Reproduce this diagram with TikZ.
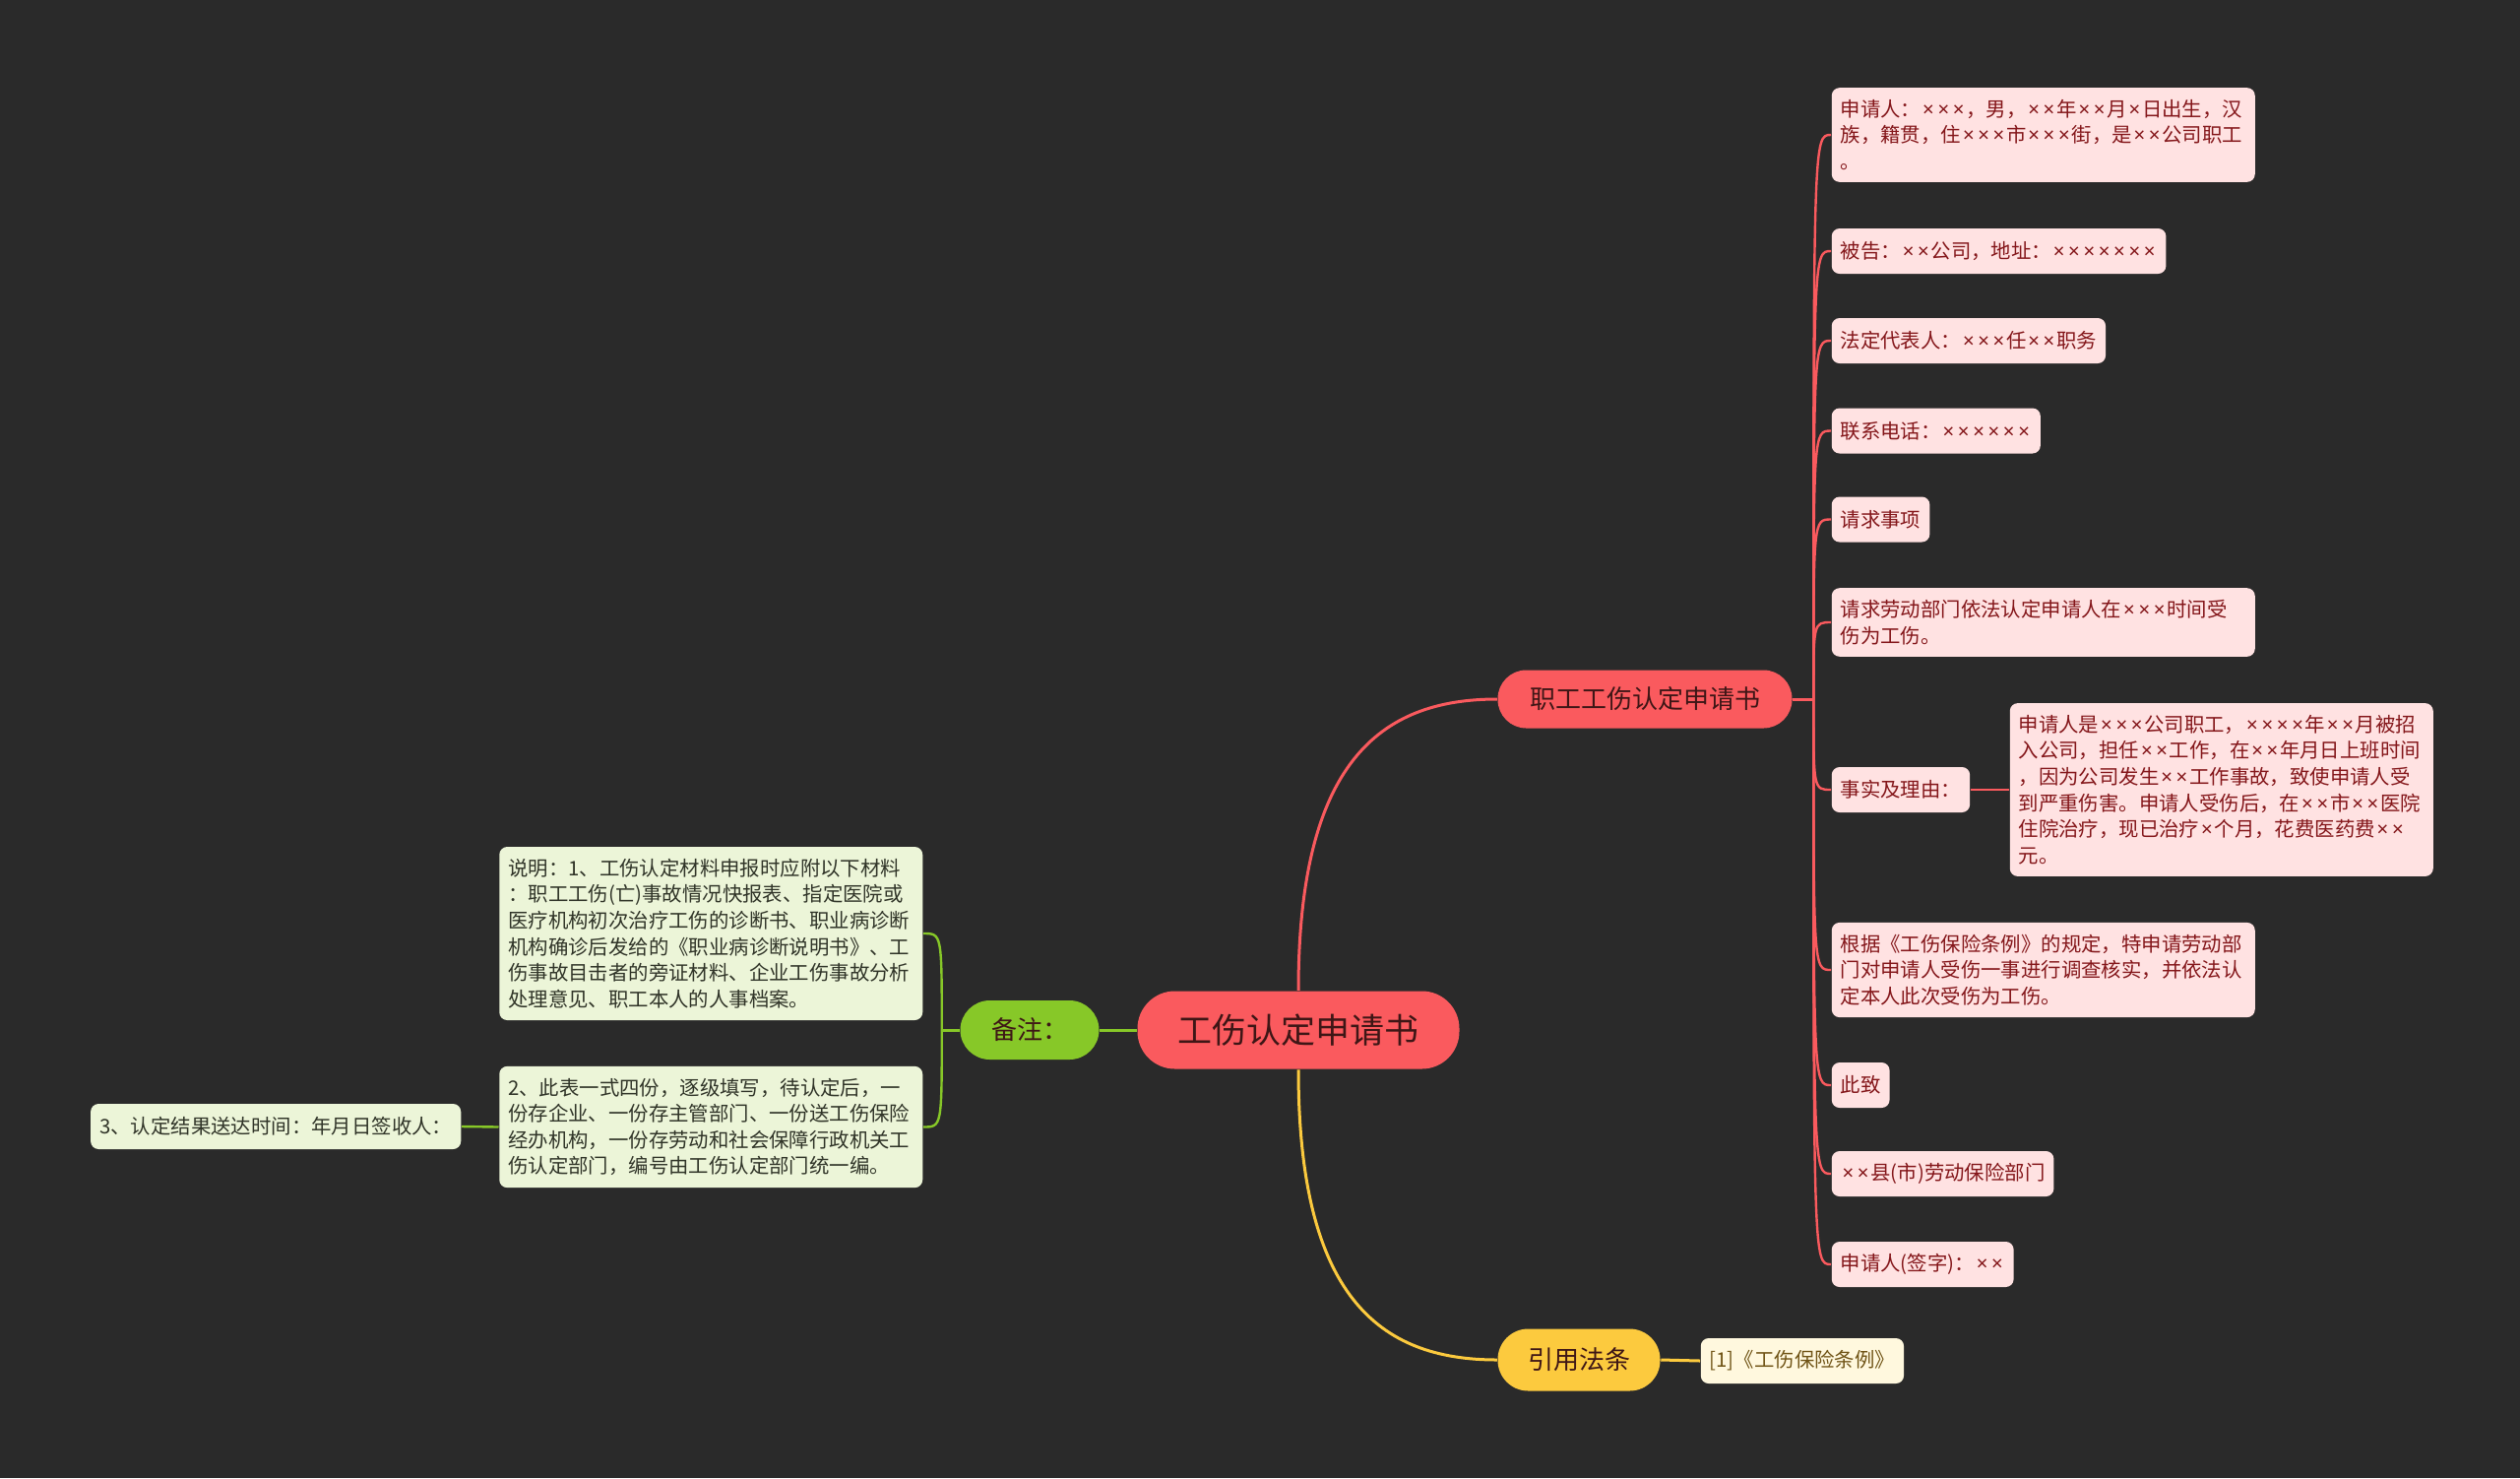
\documentclass[tikz,border=0pt]{standalone}
\usepackage{fontspec}
\usepackage{newunicodechar}
\setmainfont{Noto Sans CJK SC}
\newfontfamily\latinx{Noto Sans}
\newunicodechar{×}{{\latinx\kern0.09em\symbol{"D7}\kern0.09em}}
\usetikzlibrary{positioning,calc}
\definecolor{bgdark}{RGB}{42,42,42}
\definecolor{rootred}{RGB}{250,90,94}
\definecolor{darktext}{RGB}{62,22,22}
\definecolor{leafpink}{RGB}{255,226,226}
\definecolor{leafred}{RGB}{132,22,26}
\definecolor{notegreen}{RGB}{135,200,40}
\definecolor{leafgreen}{RGB}{236,245,216}
\definecolor{greentext}{RGB}{48,52,40}
\definecolor{citeyellow}{RGB}{252,202,62}
\definecolor{leafcream}{RGB}{255,248,222}
\definecolor{citetext}{RGB}{112,84,22}
\tikzset{every picture/.style={line width=0.75pt},
  mainnode/.style={text=darktext, inner sep=0pt},
  rootnode/.style={mainnode, fill=rootred, rounded corners=19pt, minimum width=163.5pt, minimum height=39.5pt, font=\fontsize{17.5pt}{20pt}\selectfont},
  redbranch/.style={mainnode, fill=rootred, rounded corners=14.5pt, minimum width=149.5pt, minimum height=29.5pt, font=\fontsize{13pt}{15pt}\selectfont},
  yellowbranch/.style={mainnode, fill=citeyellow, rounded corners=15.5pt, minimum width=82.5pt, minimum height=31.5pt, font=\fontsize{13pt}{15pt}\selectfont},
  greenbranch/.style={mainnode, fill=notegreen, rounded corners=15pt, minimum width=70.5pt, minimum height=30pt, font=\fontsize{13pt}{15pt}\selectfont},
  leaf/.style={rounded corners=4pt, inner xsep=4.5pt, inner ysep=6pt, minimum height=23pt, align=left, font=\fontsize{10.2pt}{13.3pt}\selectfont},
  redleaf/.style={leaf, fill=leafpink, text=leafred, anchor=west},
  greenleaf/.style={leaf, fill=leafgreen, text=greentext, anchor=east},
  citeleaf/.style={leaf, fill=leafcream, text=citetext, anchor=west},
  wide/.style={text width=206pt},
  redline/.style={draw=rootred, line width=1.5pt},
  redtwig/.style={draw=rootred, line width=1.2pt},
  greenline/.style={draw=notegreen, line width=1.5pt},
  greentwig/.style={draw=notegreen, line width=1.2pt},
  yellowline/.style={draw=citeyellow, line width=1.5pt}
}
\begin{document}
\begin{tikzpicture}[x=0.5pt, y=-0.5pt]
    % 背景
    \fill[bgdark] (0,0) rectangle (2560,1501);
    \useasboundingbox (0,0) rectangle (2560,1501);

    % 中心主题和分支
    \node[rootnode] (root) at (1319,1046) {工伤认定申请书};
    \node[redbranch] (zg) at (1671,710) {职工工伤认定申请书};
    \node[yellowbranch] (yy) at (1604,1381) {引用法条};
    \node[greenbranch] (bz) at (1046,1046) {备注：};

    % 职工工伤认定申请书的子节点
    \node[redleaf, wide] (l1) at (1860,137) {申请人：×××，男，××年××月×日出生，汉\\族，籍贯，住×××市×××街，是××公司职工\\。};
    \node[redleaf] (l2) at (1860,255) {被告：××公司，地址：×××××××};
    \node[redleaf] (l3) at (1860,346) {法定代表人：×××任××职务};
    \node[redleaf] (l4) at (1860,437.5) {联系电话：××××××};
    \node[redleaf] (l5) at (1860,527.5) {请求事项};
    \node[redleaf, wide] (l6) at (1860,632) {请求劳动部门依法认定申请人在×××时间受\\伤为工伤。};
    \node[redleaf] (l7) at (1860,802) {事实及理由：};
    \node[redleaf, wide] (l7a) at (2041,802) {申请人是×××公司职工，××××年××月被招\\入公司，担任××工作，在××年月日上班时间\\，因为公司发生××工作事故，致使申请人受\\到严重伤害。申请人受伤后，在××市××医院\\住院治疗，现已治疗×个月，花费医药费××\\元。};
    \node[redleaf, wide] (l8) at (1860,985) {根据《工伤保险条例》的规定，特申请劳动部\\门对申请人受伤一事进行调查核实，并依法认\\定本人此次受伤为工伤。};
    \node[redleaf] (l9) at (1860,1102) {此致};
    \node[redleaf] (l10) at (1860,1192) {××县(市)劳动保险部门};
    \node[redleaf] (l11) at (1860,1284) {申请人(签字)：××};

    % 引用法条
    \node[citeleaf] (c1) at (1727,1382) {[1]《工伤保险条例》};

    % 备注
    \node[greenleaf, wide] (g1) at (938,948) {说明：1、工伤认定材料申报时应附以下材料\\：职工工伤(亡)事故情况快报表、指定医院或\\医疗机构初次治疗工伤的诊断书、职业病诊断\\机构确诊后发给的《职业病诊断说明书》、工\\伤事故目击者的旁证材料、企业工伤事故分析\\处理意见、职工本人的人事档案。};
    \node[greenleaf, wide] (g2) at (938,1144.5) {2、此表一式四份，逐级填写，待认定后，一\\份存企业、一份存主管部门、一份送工伤保险\\经办机构，一份存劳动和社会保障行政机关工\\伤认定部门，编号由工伤认定部门统一编。};
    \node[greenleaf] (g3) at (469,1144) {3、认定结果送达时间：年月日签收人：};

    % 主连线
    \draw[redline] (root.north) .. controls +(0,-230) and +(-120,0) .. (zg.west);
    \draw[yellowline] (root.south) .. controls +(0,230) and +(-120,0) .. (yy.west);
    \draw[greenline] (root.west) -- (bz.east);
    \draw[yellowline] (yy.east) -- (c1.west);

    % 分支连线
    \coordinate (zghub) at ($(zg.east)+(21,0)$);
    \draw[redline] (zg.east) -- (zghub);
    \foreach \n in {l1,l2,l3,l4,l5,l6,l7,l8,l9,l10,l11}
        \draw[redtwig] (zghub) .. controls (zghub |- \n.west) .. (\n.west);
    \draw[redtwig] (l7.east) -- (l7a.west);

    \coordinate (bzhub) at ($(bz.west)+(-18,0)$);
    \draw[greenline] (bz.west) -- (bzhub);
    \foreach \n in {g1,g2}
        \draw[greentwig] (bzhub) .. controls (bzhub |- \n.east) .. (\n.east);
    \draw[greentwig] (g2.west) -- (g3.east);
\end{tikzpicture}
\end{document}
